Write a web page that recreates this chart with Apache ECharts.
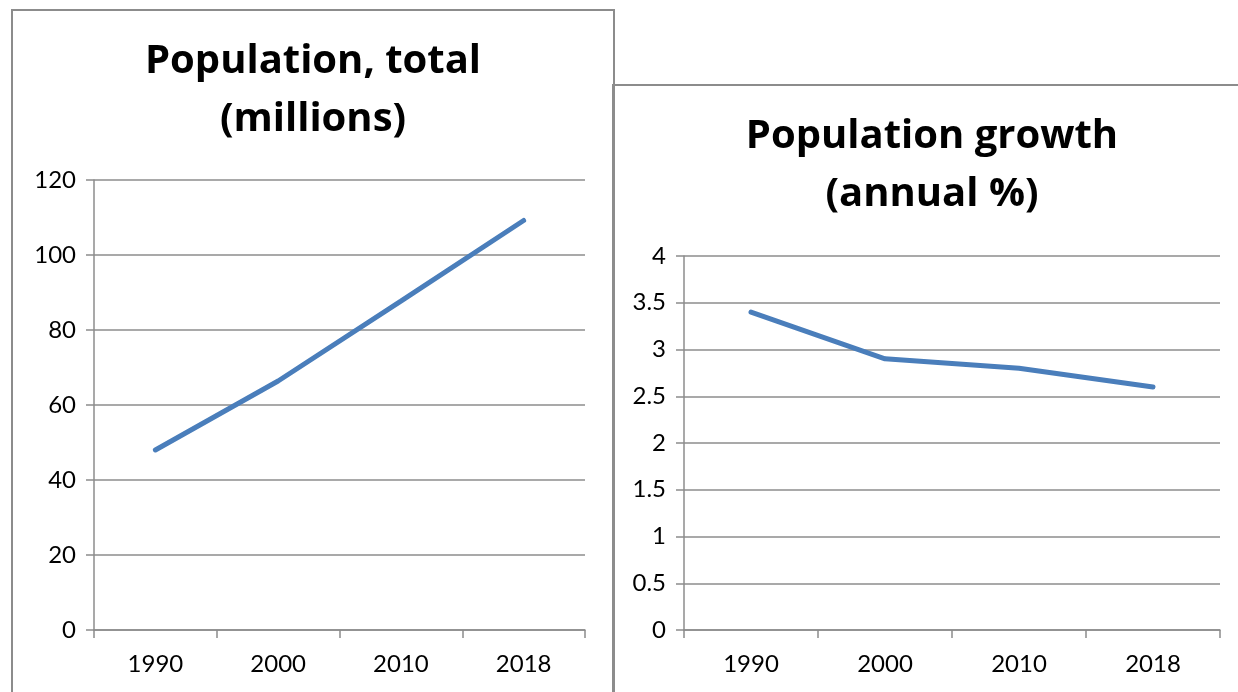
<!DOCTYPE html>
<html>
<head>
<meta charset="utf-8">
<script src="https://cdn.jsdelivr.net/npm/echarts@6/dist/echarts.min.js"></script>
<style>
  html, body { margin: 0; padding: 0; background: #fff; }
  #main { position: absolute; left: 0; top: 0; width: 1238px; height: 692px; }
  .box { position: absolute; border: 2px solid #8c8c8c; box-sizing: border-box; }
</style>
</head>
<body>
<div class="box" style="left:11px; top:9px; width:604px; height:720px;"></div>
<div class="box" style="left:612px; top:84px; width:700px; height:700px;"></div>
<div id="main"></div>
<script>
// 数据
var years = ['1990', '2000', '2010', '2018'];
var popTotal = [48, 66.4, 87.7, 109.2];
var popGrowth = [3.4, 2.9, 2.8, 2.6];

var FONT = 'Lato, "Liberation Sans", sans-serif';
var TITLE_FONT = '"Open Sans", "Liberation Sans", sans-serif';
var GRAY = '#8c8c8c';
var BLUE = '#4a7ebb';

function xAxisOf(gridIndex) {
    return {
        type: 'category',
        gridIndex: gridIndex,
        data: years,
        boundaryGap: true,
        axisLine: { lineStyle: { color: GRAY, width: 1.5 } },
        axisTick: { show: true, length: 8, lineStyle: { color: GRAY, width: 1.5 } },
        axisLabel: { color: '#000', fontSize: 24, fontFamily: FONT, margin: 22 }
    };
}

function yAxisOf(gridIndex, max, interval) {
    return {
        type: 'value',
        gridIndex: gridIndex,
        min: 0,
        max: max,
        interval: interval,
        axisLine: { show: true, lineStyle: { color: GRAY, width: 1.5 } },
        axisTick: { show: true, length: 8, lineStyle: { color: GRAY, width: 1.5 } },
        axisLabel: { color: '#000', fontSize: 24, fontFamily: FONT, margin: 18 },
        splitLine: { show: true, lineStyle: { color: GRAY, width: 1.5 } }
    };
}

var myChart = echarts.init(document.getElementById('main'));
var option = {
    animation: false,
    graphic: [
        {
            type: 'text',
            style: {
                x: 313, y: 91, text: 'Population, total\n(millions)',
                font: 'bold 40px ' + TITLE_FONT, fill: '#000',
                align: 'center', verticalAlign: 'middle', lineHeight: 58
            }
        },
        {
            type: 'text',
            style: {
                x: 932, y: 166, text: 'Population growth\n(annual %)',
                font: 'bold 40px ' + TITLE_FONT, fill: '#000',
                align: 'center', verticalAlign: 'middle', lineHeight: 58
            }
        }
    ],
    grid: [
        { left: 94, top: 180, width: 491, height: 450 },
        { left: 684, top: 256, width: 536, height: 374 }
    ],
    xAxis: [xAxisOf(0), xAxisOf(1)],
    yAxis: [yAxisOf(0, 120, 20), yAxisOf(1, 4, 0.5)],
    series: [
        {
            type: 'line', xAxisIndex: 0, yAxisIndex: 0,
            data: popTotal, showSymbol: false, symbol: 'none',
            lineStyle: { color: BLUE, width: 5, cap: 'round' }
        },
        {
            type: 'line', xAxisIndex: 1, yAxisIndex: 1,
            data: popGrowth, showSymbol: false, symbol: 'none',
            lineStyle: { color: BLUE, width: 5, cap: 'round' }
        }
    ]
};
myChart.setOption(option);
</script>
</body>
</html>
